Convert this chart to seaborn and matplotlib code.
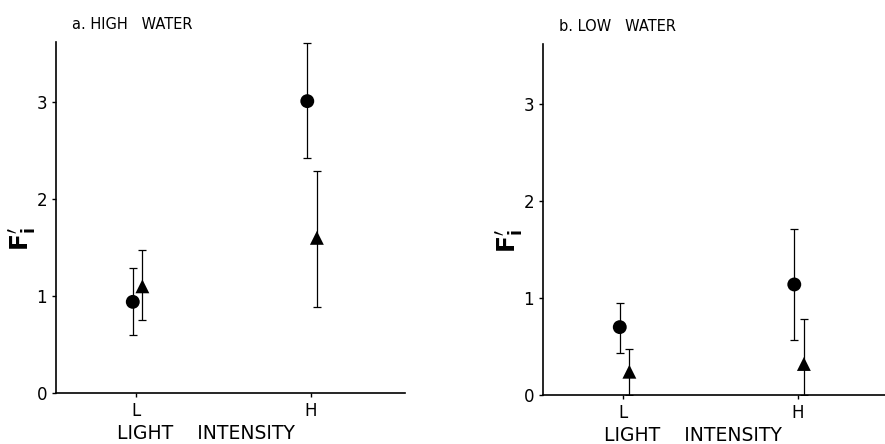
import pandas as pd
import matplotlib
matplotlib.use("Agg")
import matplotlib.pyplot as plt
import seaborn as sns

# Data
light = ["L", "H"]

# a. high water
high_circle = [0.94, 3.01]
high_circle_lo = [0.60, 2.42]
high_circle_hi = [1.29, 3.61]
high_tri = [1.10, 1.60]
high_tri_lo = [0.75, 0.89]
high_tri_hi = [1.47, 2.29]

# b. low water
low_circle = [0.70, 1.14]
low_circle_lo = [0.43, 0.57]
low_circle_hi = [0.95, 1.71]
low_tri = [0.24, 0.32]
low_tri_lo = [0.0, 0.0]
low_tri_hi = [0.47, 0.78]


def make_df(circ, circ_lo, circ_hi, tri, tri_lo, tri_hi):
    rows = []
    for i, lab in enumerate(light):
        rows.append({"light": lab, "pos": i - 0.02, "kind": "circle",
                     "F": circ[i], "lo": circ_lo[i], "hi": circ_hi[i]})
        rows.append({"light": lab, "pos": i + 0.035, "kind": "triangle",
                     "F": tri[i], "lo": tri_lo[i], "hi": tri_hi[i]})
    return pd.DataFrame(rows)


panels = [
    ("a. HIGH   WATER", make_df(high_circle, high_circle_lo, high_circle_hi,
                                high_tri, high_tri_lo, high_tri_hi)),
    ("b. LOW   WATER", make_df(low_circle, low_circle_lo, low_circle_hi,
                               low_tri, low_tri_lo, low_tri_hi)),
]

sns.set_style("ticks")
plt.rcParams["font.family"] = ["DejaVu Sans"]
plt.rcParams["text.color"] = "black"
plt.rcParams["axes.labelcolor"] = "black"
plt.rcParams["xtick.color"] = "black"
plt.rcParams["ytick.color"] = "black"

W, H = 885, 444
fig = plt.figure(figsize=(W / 100, H / 100), dpi=100)

axes_px = [(56, 393), (543, 395)]
for (title, df), (x0, y0) in zip(panels, axes_px):
    ax = fig.add_axes([x0 / W, (H - y0) / H, 349 / W, 351 / H])

    for _, r in df.iterrows():
        ax.errorbar(r["pos"], r["F"],
                    yerr=[[r["F"] - r["lo"]], [r["hi"] - r["F"]]],
                    fmt="none", ecolor="black", elinewidth=0.9,
                    capsize=3, capthick=0.9, zorder=2)

    sns.scatterplot(data=df, x="pos", y="F", style="kind",
                    markers={"circle": "o", "triangle": "^"},
                    color="black", s=100, edgecolor="black", linewidth=0,
                    legend=False, ax=ax, zorder=3)

    ax.set_xlim(-0.46, 1.54)
    ax.set_ylim(0, 3.62)
    ax.set_xticks(range(len(light)))
    ax.set_xticklabels(light, fontsize=12)
    ax.set_yticks([0, 1, 2, 3])
    ax.set_yticklabels(["0", "1", "2", "3"], fontsize=12)
    ax.tick_params(length=3, width=1, color="black")

    for side in ["top", "right"]:
        ax.spines[side].set_visible(False)
    for side in ["left", "bottom"]:
        ax.spines[side].set_linewidth(1.2)
        ax.spines[side].set_color("black")

    ax.set_xlabel("LIGHT    INTENSITY", fontsize=13.5)
    ax.xaxis.label.set_verticalalignment("center")
    ax.xaxis.set_label_coords(0.43, -0.115)
    ax.set_ylabel(r"$\mathbf{F_i^{\prime}}$", fontsize=18, rotation=90)
    ax.yaxis.label.set_verticalalignment("center")
    ax.yaxis.set_label_coords(-0.095, 0.44)

    ax.text(0.045, 1.05, title, transform=ax.transAxes, fontsize=10.5,
            ha="left", va="center")

fig.savefig("out.png", dpi=100)
